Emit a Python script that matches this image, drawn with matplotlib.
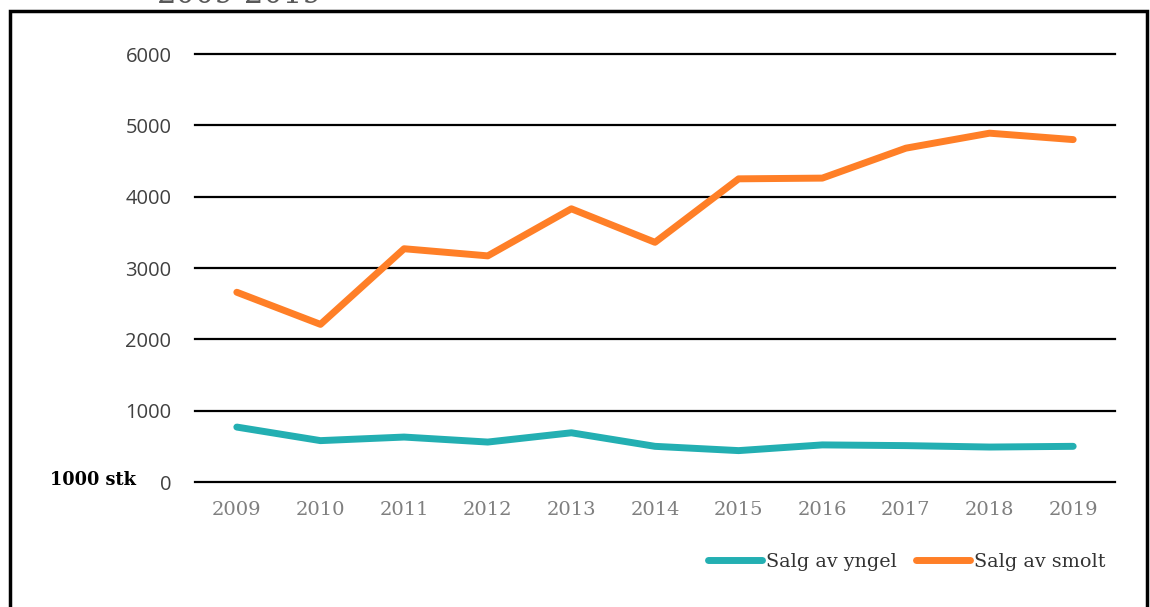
import matplotlib
matplotlib.use("Agg")
import matplotlib.pyplot as plt
from matplotlib.patches import Rectangle

years = ["2009", "2010", "2011", "2012", "2013", "2014", "2015", "2016", "2017", "2018", "2019"]
yngel = [770, 580, 630, 560, 690, 500, 440, 520, 510, 490, 500]
smolt = [2660, 2210, 3270, 3170, 3830, 3360, 4250, 4260, 4680, 4890, 4800]
series_labels = ["Salg av yngel", "Salg av smolt"]
yticks = [0, 1000, 2000, 3000, 4000, 5000, 6000]
unit_label = "1000 stk"
title_tail = "2009-2019"

TEAL = "#23AFB2"
ORANGE = "#FF7F27"
SERIF = ["DejaVu Serif"]

fig = plt.figure(figsize=(11.5, 6.07), dpi=100)
ax = fig.add_axes([195 / 1150, 1 - 482 / 607, 920 / 1150, (482 - 54) / 607])

x = list(range(len(years)))
for v in yticks:
    ax.axhline(v, color="black", lw=1.6, zorder=1, clip_on=False)
ax.plot(x, yngel, color=TEAL, lw=5, solid_capstyle="round", solid_joinstyle="round",
        label=series_labels[0], zorder=3)
ax.plot(x, smolt, color=ORANGE, lw=5, solid_capstyle="round", solid_joinstyle="round",
        label=series_labels[1], zorder=3)

ax.set_xlim(-0.5, len(years) - 0.5)
ax.set_ylim(0, 6000)
ax.set_xticks(x)
ax.set_xticklabels(years, fontfamily=SERIF, fontsize=14, color="#7f7f7f")
ax.set_yticks(yticks)
ax.set_yticklabels([str(v) for v in yticks], fontfamily=["Open Sans"], fontsize=14.5, color="#404040")
ax.tick_params(axis="both", length=0)
ax.tick_params(axis="x", pad=14)
ax.tick_params(axis="y", pad=17)
for s in ax.spines.values():
    s.set_visible(False)

fig.text(50 / 1150, 1 - 480 / 607, unit_label, fontfamily=SERIF, fontweight="bold",
         fontsize=12.8, color="black", ha="left", va="center")

fig.text(240 / 1150, 1 - 3 / 607, title_tail, fontfamily=SERIF, fontsize=22,
         color="#595959", ha="center", va="baseline")

fig.patches.append(Rectangle((10 / 1150, -0.05), (1147 - 10) / 1150, 1.05 - 11 / 607,
                             transform=fig.transFigure, fill=False, edgecolor="black",
                             lw=2.5, clip_on=False))

leg = fig.legend(loc="center right", bbox_to_anchor=(1105 / 1150, 1 - 562 / 607), ncol=2,
                 frameon=False, prop={"family": SERIF, "size": 13.8}, handlelength=2.8,
                 handletextpad=0.2, columnspacing=1.0, borderaxespad=0, borderpad=0)
for t in leg.get_texts():
    t.set_color("#333333")

fig.savefig("out.png", dpi=100)
